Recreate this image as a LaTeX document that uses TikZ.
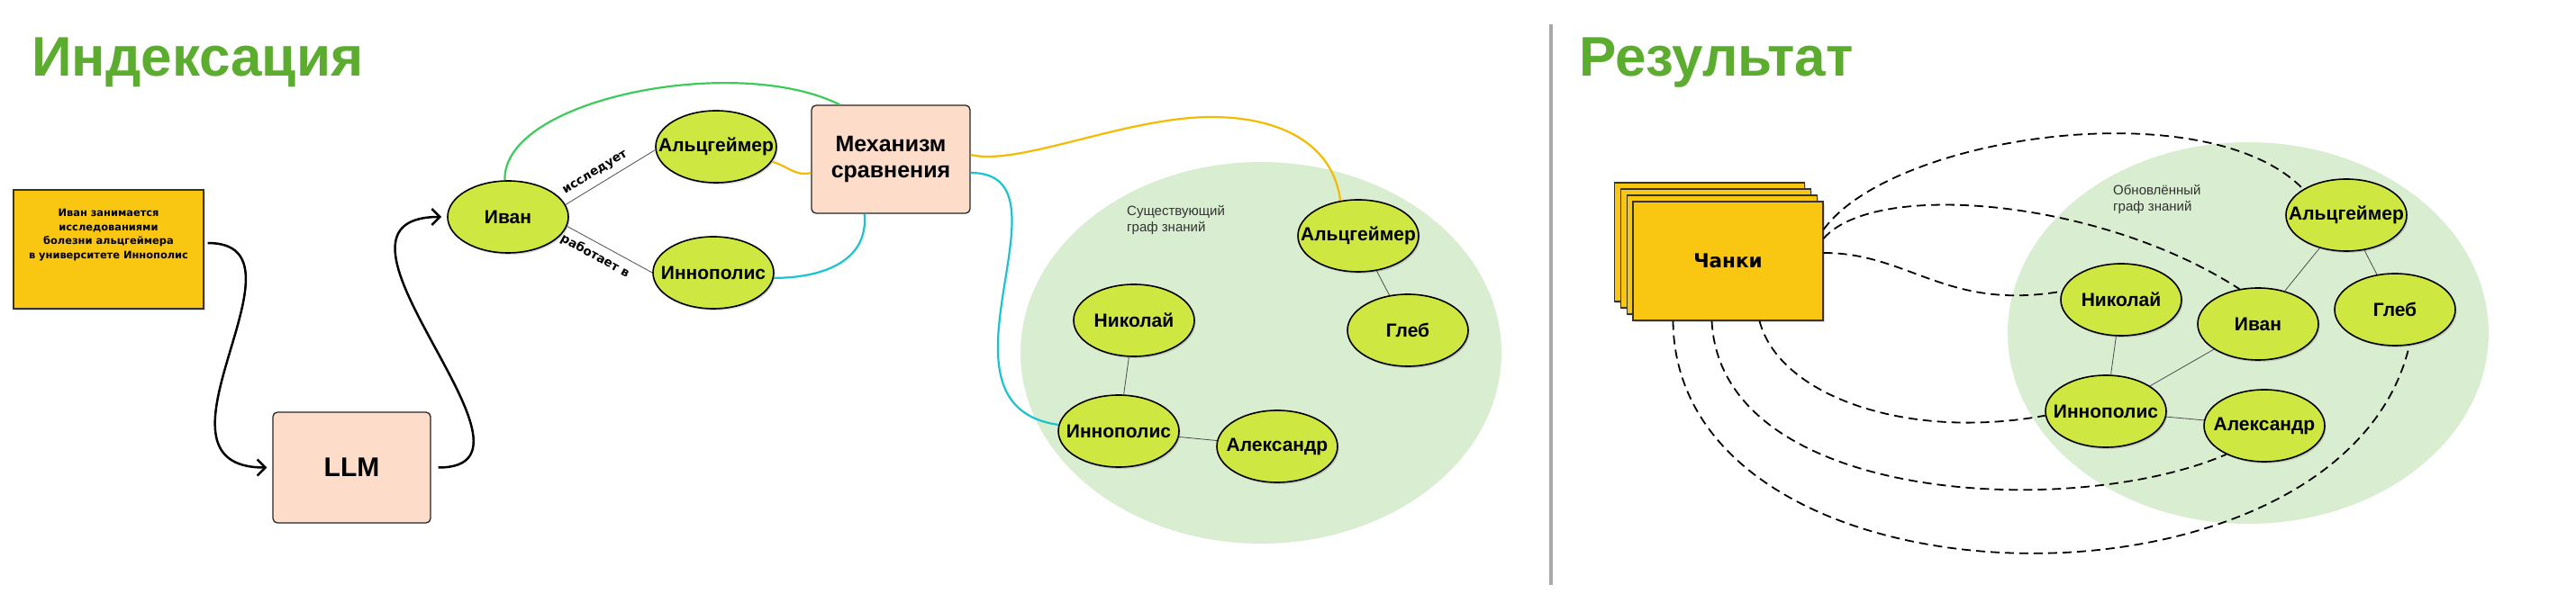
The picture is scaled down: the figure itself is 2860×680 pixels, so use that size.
\documentclass[tikz,border=0pt]{standalone}
\usepackage{fontspec}
\setmainfont{Liberation Sans}
\newfontfamily\geofont{DejaVu Sans}
\usetikzlibrary{shapes.geometric, arrows.meta, shadows, calc}

\definecolor{titlegreen}{RGB}{92,172,48}
\definecolor{entityfill}{RGB}{207,231,65}
\definecolor{regionfill}{RGB}{217,237,208}
\definecolor{chunkfill}{RGB}{249,198,18}
\definecolor{peach}{RGB}{253,220,201}
\definecolor{linkgreen}{RGB}{60,203,90}
\definecolor{linkorange}{RGB}{245,187,0}
\definecolor{linkcyan}{RGB}{25,196,210}
\definecolor{sepgray}{RGB}{169,169,169}

\tikzset{
	castshadow/.style = {drop shadow={shadow xshift=1.5pt, shadow yshift=-2pt, opacity=0.3}},
	entity/.style = {ellipse, draw=black, line width=1.6pt, fill=entityfill, minimum width=134pt, minimum height=80pt, inner sep=0pt, font=\fontsize{21}{24}\selectfont\bfseries, castshadow},
	chunkbox/.style = {rectangle, draw=black!80, line width=1.3pt, fill=chunkfill, minimum width=211pt, minimum height=132pt, inner sep=0pt, castshadow},
	procbox/.style = {rectangle, rounded corners=5pt, draw=black!85, line width=1.3pt, fill=peach, inner sep=0pt, align=center, font=\fontsize{25}{29}\selectfont\bfseries},
	region/.style = {ellipse, fill=regionfill, minimum width=534pt, minimum height=424pt, inner sep=0pt},
	regiontext/.style = {align=left, anchor=west, text=black!80, inner sep=0pt, font=\fontsize{15}{18}\selectfont},
	heading/.style = {anchor=base west, inner sep=0pt, text=titlegreen, font=\fontsize{62}{70}\selectfont\bfseries},
	relation/.style = {draw=black!70, line width=0.8pt},
	edgetext/.style = {sloped, inner sep=7pt, font=\geofont\bfseries\fontsize{13.5}{16}\selectfont},
	flow/.style = {draw=black, line width=2.5pt, -{Straight Barb[length=9pt, width=18pt]}},
	match/.style = {line width=2.2pt},
	chunklink/.style = {draw=black, line width=1.8pt, dash pattern=on 10pt off 6pt},
}

\begin{document}
\begin{tikzpicture}[x=1pt, y=1pt]
	\useasboundingbox (0,0) rectangle (2860,680);

					% Headings and the divider between the two halves
						\node[heading] (indexing) at (35,595) {Индексация};
						\node[heading] (result) at (1753,595) {Результат};
						\draw[sepgray, line width=4pt] (1722,653) -- (1722,30);

					% The two knowledge graph areas
						\node[region] (oldgraph) at (1400,288) {};
						\node[regiontext] (oldlabel) at (1251,436) {Существующий\\граф знаний};
						\node[region] (newgraph) at (2496,310) {};
						\node[regiontext] (newlabel) at (2346,459) {Обновлённый\\граф знаний};

					% Source text, LLM and the comparison step
						\node[chunkbox] (input) at (120.5,403) {};
						\node[align=center, inner sep=0pt, font=\geofont\bfseries\fontsize{11.4}{15.5}\selectfont] (inputtext) at ([yshift=16pt]input.center) {Иван занимается\\исследованиями\\болезни альцгеймера\\в университете Иннополис};
						\node[procbox, minimum width=175pt, minimum height=123pt, font=\fontsize{30}{34}\selectfont\bfseries] (llm) at (390.5,160.5) {LLM};
						\node[procbox, minimum width=176pt, minimum height=120pt] (mech) at (989,503) {Механизм\\сравнения};

					% Entities found by the LLM
						\foreach \n/\x/\y/\t in {ivan/564/439/Иван, alz/795/517/Альцгеймер, inn/792/377/Иннополис} {
							\node[entity] (\n) at (\x,\y) {\makebox[0pt]{\t}};
							}

					% Existing graph
						\foreach \n/\x/\y/\t in {
							alzb/1508/418/Альцгеймер,
							gleb/1563/313/Глеб,
							nik/1259/324/Николай,
							innb/1242/201/Иннополис,
							alex/1418/184/Александр} {
								\node[entity] (\n) at (\x,\y) {\makebox[0pt]{\t}};
								}
						\foreach \a/\b in {alzb/gleb, nik/innb, innb/alex} {
							\draw[relation] (\a) -- (\b);
							}

					% Flow arrows
						\draw[flow, shorten <=4pt, shorten >=6pt] ([yshift=7pt]input.east) .. controls +(130,0) and +(-156,0) .. (llm.west);
						\draw[flow, shorten <=8pt, shorten >=6pt] (llm.east) .. controls +(150,0) and +(-170,0) .. (ivan.west);

					% Relations between the new entities
						\draw[relation] (ivan.12) -- node[edgetext, pos=0.4, above] (studies) {исследует} (alz.183);
						\draw[relation] (ivan.-9) -- node[edgetext, pos=0.4, below] (works) {работает в} (inn.west);

					% Matching against the existing graph
						\coordinate (orangepeak) at (1345,550);
						\draw[linkgreen, match] (ivan.95) .. controls +(-3,91) and +(-113,57) .. ($(mech.north west)!0.18!(mech.north east)$);
						\draw[linkorange, match] (alz.-15) to[out=-15, in=195] ([yshift=-15pt]mech.west);
						\draw[linkcyan, match] (inn.-5) .. controls +(50,0) and +(5,-55) .. ($(mech.south west)!0.335!(mech.south east)$);
						\draw[linkorange, match] ([yshift=5pt]mech.east) .. controls +(53,-13) and +(-95,0) .. (orangepeak) .. controls +(75,0) and +(-8,64) .. (alzb.117);
						\draw[linkcyan, match] ([yshift=-15pt]mech.east) .. controls +(123,0) and +(-156,22) .. (innb.174);

					% Chunks (a small stack of cards)
						\foreach \k in {3,2,1} {
							\node[chunkbox] (chunk\k) at (1918.5-6.8*\k, 390+7*\k) {};
							}
						\node[chunkbox, font=\geofont\bfseries\fontsize{21.5}{24}\selectfont] (chunks) at (1918.5,390) {Чанки};

					% Updated graph
						\foreach \n/\x/\y/\t in {
							alzr/2605/441/Альцгеймер,
							ivanr/2507/320/Иван,
							glebr/2659/336/Глеб,
							nikr/2355/347/Николай,
							innr/2338/223/Иннополис,
							alexr/2514/207/Александр} {
								\node[entity] (\n) at (\x,\y) {\makebox[0pt]{\t}};
								}
						\foreach \a/\b in {alzr/ivanr, alzr/glebr, nikr/innr, ivanr/innr, innr/alexr} {
							\draw[relation] (\a) -- (\b);
							}

					% Links from the chunks to the entities
						\draw[chunklink] ([yshift=35pt]chunks.east) .. controls +(76,105) and +(-106,110) .. (alzr.149);
						\draw[chunklink] ([yshift=25pt]chunks.east) .. controls +(56,65) and +(-156,101) .. (ivanr.118);
						\draw[chunklink] ([yshift=9pt]chunks.east) .. controls +(95,0) and +(-128,-22) .. (nikr.172);
						\draw[chunklink] ([xshift=35pt]chunks.south) .. controls +(22,-84) and +(-152,-28) .. (innr.184);
						\draw[chunklink] ([xshift=-18pt]chunks.south) .. controls +(10,-204) and +(-169,-73) .. (alexr.217);
						\draw[chunklink] ([xshift=-61pt]chunks.south) .. controls +(3,-334) and +(-74,-318) .. (glebr.292);

					\end{tikzpicture}
\end{document}
